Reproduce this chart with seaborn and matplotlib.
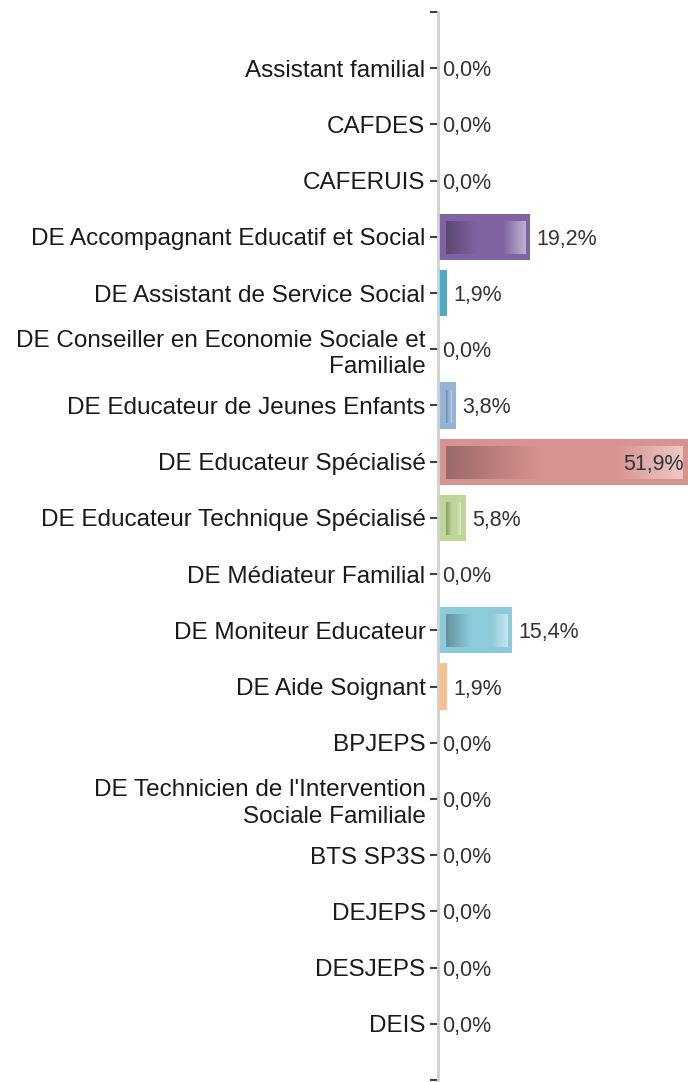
import matplotlib
matplotlib.use("Agg")
import matplotlib.pyplot as plt
import numpy as np
import pandas as pd
import seaborn as sns
from matplotlib.colors import LinearSegmentedColormap, to_rgb

categories = [
    "Assistant familial",
    "CAFDES",
    "CAFERUIS",
    "DE Accompagnant Educatif et Social",
    "DE Assistant de Service Social",
    "DE Conseiller en Economie Sociale et\nFamiliale",
    "DE Educateur de Jeunes Enfants",
    "DE Educateur Spécialisé",
    "DE Educateur Technique Spécialisé",
    "DE Médiateur Familial",
    "DE Moniteur Educateur",
    "DE Aide Soignant",
    "BPJEPS",
    "DE Technicien de l'Intervention\nSociale Familiale",
    "BTS SP3S",
    "DEJEPS",
    "DESJEPS",
    "DEIS",
]
values = [0.0, 0.0, 0.0, 19.2, 1.9, 0.0, 3.8, 51.9, 5.8, 0.0, 15.4, 1.9,
          0.0, 0.0, 0.0, 0.0, 0.0, 0.0]
bar_colors = [
    "#bfbfbf", "#bfbfbf", "#bfbfbf", "#8064a2", "#4bacc6", "#bfbfbf",
    "#95b3d7", "#d79391", "#bfd699", "#bfbfbf", "#8ccbdb", "#fac090",
    "#bfbfbf", "#bfbfbf", "#bfbfbf", "#bfbfbf", "#bfbfbf", "#bfbfbf",
]

df = pd.DataFrame({"Formation": categories, "Pourcentage": values})

sns.set_style("white")
plt.rcParams["font.family"] = ["Liberation Sans", "DejaVu Sans"]

W, H = 688, 1082
fig = plt.figure(figsize=(W / 100, H / 100), dpi=100)
ax = fig.add_axes([438 / W, 2 / H, 250 / W, 1068 / H])

sns.barplot(data=df, x="Pourcentage", y="Formation", hue="Formation",
            palette=bar_colors, legend=False, orient="h", width=0.82,
            edgecolor="none", saturation=1, ax=ax)

xmax = 52.0
px_x = 250 / xmax          # pixels per percent
px_y = 1068 / 19           # pixels per category

# gradient inside each bar (dark left -> base -> light right)
for i, (v, c) in enumerate(zip(values, bar_colors)):
    if v * px_x < 16:
        continue
    base = np.array(to_rgb(c))
    dark = base * 0.72
    light = base + (1 - base) * 0.5
    cmap = LinearSegmentedColormap.from_list(
        f"g{i}", [(0, dark), (0.4, base), (0.72, base), (1, light)])
    x0 = 8 / px_x
    x1 = v - 5 / px_x
    y0 = i - 0.41 + 8 / px_y
    y1 = i + 0.41 - 6 / px_y
    ax.imshow(np.linspace(0, 1, 256).reshape(1, -1), cmap=cmap,
              extent=[x0, x1, y1, y0], aspect="auto", zorder=3,
              interpolation="bilinear")

# value labels
for i, v in enumerate(values):
    txt = f"{v:.1f}%".replace(".", ",")
    if v > 40:
        ax.annotate(txt, (v, i), xytext=(-4, 0), textcoords="offset pixels",
                    ha="right", va="center_baseline", fontsize=15.5,
                    color="#333333", zorder=4)
    else:
        off = 4 if v == 0 else 6
        ax.annotate(txt, (v, i), xytext=(off, 0), textcoords="offset pixels",
                    ha="left", va="center_baseline", fontsize=15.5,
                    color="#333333", zorder=4)

ax.set_xlim(0, xmax)
ax.set_ylim(18, -1)
ax.set_yticks([-1] + list(range(len(categories))) + [18])
ax.set_yticklabels([""] + categories + [""], fontsize=17.5, color="#1a1a1a",
                   linespacing=1.25)
ax.tick_params(axis="y", length=6, width=1.5, color="#404040", pad=3,
               left=True)
ax.set_ylabel("")
ax.set_xlabel("")
ax.xaxis.set_visible(False)
for s in ["top", "right", "bottom"]:
    ax.spines[s].set_visible(False)
ax.spines["left"].set_color("#d0d0d0")
ax.spines["left"].set_linewidth(2)

fig.savefig("out.png", dpi=100)
